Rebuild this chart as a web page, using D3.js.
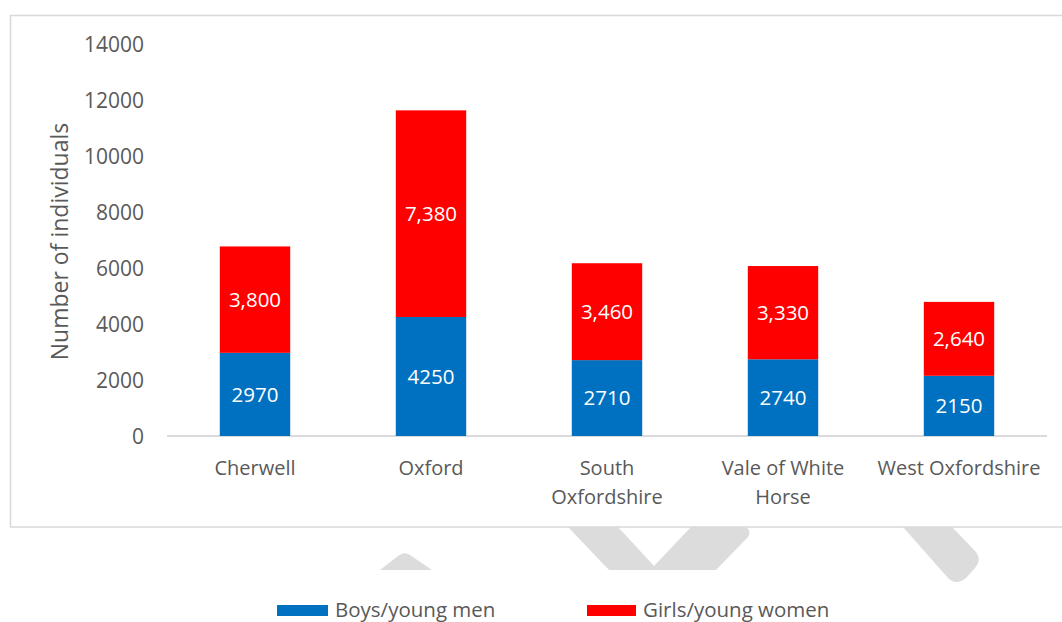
<!DOCTYPE html>
<html>
<head>
<meta charset="utf-8">
<script src="https://cdn.jsdelivr.net/npm/d3@7"></script>
<style>
  html, body { margin: 0; padding: 0; background: #fff; }
  svg { display: block; font-family: "Open Sans", sans-serif; }
</style>
</head>
<body>
<svg id="chart" width="1062" height="622"></svg>
<script>
// Districts and counts of individuals by group
const districts = ["Cherwell", "Oxford", "South Oxfordshire", "Vale of White Horse", "West Oxfordshire"];
const districtLines = [["Cherwell"], ["Oxford"], ["South", "Oxfordshire"], ["Vale of White", "Horse"], ["West Oxfordshire"]];
const boys = [2970, 4250, 2710, 2740, 2150];
const girls = [3800, 7380, 3460, 3330, 2640];
const yTicks = [0, 2000, 4000, 6000, 8000, 10000, 12000, 14000];
const seriesNames = ["Boys/young men", "Girls/young women"];
const seriesColors = ["#0070C0", "#FF0000"];

const svg = d3.select("#chart");
const textColor = "#595959";
const gridColor = "#D9D9D9";

// Faint background watermark strokes peeking out below the chart frame
const wm = svg.append("g").attr("fill", "#DCDCDC");
wm.append("path").attr("d", "M380,570 L398,556 Q404,551 410,555 L432,570 Z");
wm.append("path").attr("d", "M568,527 L618,527 L654,566 L691,527 L745,527 Q752,530 748,537 L716,570 L609,570 Z");
wm.append("path").attr("d", "M903,527 L952,527 L976,552 Q982,560 975,568 L966,578 Q956,586 948,578 Z");

// Chart frame
svg.append("rect")
  .attr("x", 10.5).attr("y", 15.5)
  .attr("width", 1060).attr("height", 511.5)
  .attr("fill", "#fff")
  .attr("stroke", gridColor).attr("stroke-width", 1.5);

// Scales
const x = d3.scaleBand().domain(districts).range([167, 1047]).padding(0);
const y = d3.scaleLinear().domain([0, 14000]).range([436, 44]);
const barW = x.bandwidth() * 0.4;

// Y axis tick labels
svg.append("g").selectAll("text").data(yTicks).join("text")
  .attr("x", 144).attr("y", d => y(d))
  .attr("dy", "0.36em")
  .attr("text-anchor", "end")
  .attr("fill", textColor)
  .attr("font-size", 21)
  .text(d => d);

// Baseline
svg.append("line")
  .attr("x1", 167).attr("x2", 1047)
  .attr("y1", y(0)).attr("y2", y(0))
  .attr("stroke", gridColor).attr("stroke-width", 2);

// Y axis title
svg.append("text")
  .attr("transform", "translate(68,241.5) rotate(-90)")
  .attr("text-anchor", "middle")
  .attr("fill", textColor)
  .attr("font-size", 23)
  .text("Number of individuals");

// Stacked bars
const stackData = districts.map((d, i) => ({ district: d, boys: boys[i], girls: girls[i] }));
const stack = d3.stack().keys(["boys", "girls"])(stackData);
const fmt = [d3.format("d"), d3.format(",")];

stack.forEach((layer, li) => {
  const g = svg.append("g");
  g.selectAll("rect").data(layer).join("rect")
    .attr("x", d => x(d.data.district) + (x.bandwidth() - barW) / 2)
    .attr("width", barW)
    .attr("y", d => y(d[1]))
    .attr("height", d => y(d[0]) - y(d[1]))
    .attr("fill", seriesColors[li]);
  g.selectAll("text").data(layer).join("text")
    .attr("x", d => x(d.data.district) + x.bandwidth() / 2)
    .attr("y", d => (y(d[0]) + y(d[1])) / 2)
    .attr("dy", "0.36em")
    .attr("text-anchor", "middle")
    .attr("fill", "#fff")
    .attr("font-size", 20.5)
    .text(d => fmt[li](d[1] - d[0]));
});

// Category labels
const cat = svg.append("g").selectAll("text").data(districts).join("text")
  .attr("x", d => x(d) + x.bandwidth() / 2)
  .attr("y", 468)
  .attr("text-anchor", "middle")
  .attr("fill", textColor)
  .attr("font-size", 20);
cat.each(function(d, i) {
  d3.select(this).selectAll("tspan").data(districtLines[i]).join("tspan")
    .attr("x", x(d) + x.bandwidth() / 2)
    .attr("dy", (t, j) => j === 0 ? "0.36em" : "1.45em")
    .text(t => t);
});

// Legend
const legend = svg.append("g");
legend.append("rect").attr("x", 260).attr("y", 570).attr("width", 600).attr("height", 52).attr("fill", "#fff");
const legendPos = [{ sx: 277, sw: 51, tx: 335 }, { sx: 587, sw: 49, tx: 643 }];
seriesNames.forEach((name, i) => {
  legend.append("rect")
    .attr("x", legendPos[i].sx).attr("y", 605)
    .attr("width", legendPos[i].sw).attr("height", 11)
    .attr("fill", seriesColors[i]);
  legend.append("text")
    .attr("x", legendPos[i].tx).attr("y", 610)
    .attr("dy", "0.36em")
    .attr("fill", textColor)
    .attr("font-size", 20.5)
    .text(name);
});
</script>
</body>
</html>
